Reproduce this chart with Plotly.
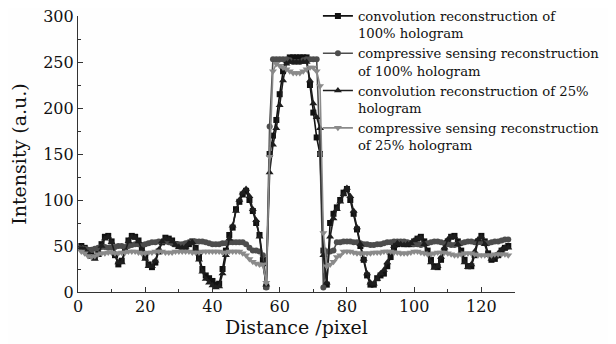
import plotly.graph_objects as go

x = list(range(1, 129))

conv100 = [50, 48, 44, 40, 38, 42, 52, 60, 61, 55,
           40, 30, 34, 46, 56, 61, 60, 56, 48, 38,
           30, 27, 32, 44, 54, 59, 58, 56, 52, 50,
           49, 48, 52, 55, 48, 38, 25, 18, 15, 12,
           8, 9, 25, 45, 62, 70, 90, 98, 106, 110,
           100, 88, 75, 62, 35, 6, 150, 170, 187, 215,
           240, 252, 255, 255, 255, 255, 255, 255, 225, 195,
           168, 150, 45, 8, 75, 85, 92, 100, 108, 112,
           100, 85, 68, 50, 35, 18, 8, 8, 15, 18,
           20, 28, 38, 48, 52, 53, 52, 52, 52, 55,
           58, 60, 55, 45, 35, 28, 27, 35, 45, 55,
           60, 61, 55, 45, 35, 28, 28, 40, 55, 61,
           55, 42, 35, 36, 40, 45, 48, 50]

cs100 = [48, 47, 46, 46, 47, 48, 49, 49, 48, 48,
         49, 50, 50, 49, 50, 51, 52, 52, 51, 52,
         53, 54, 54, 55, 55, 55, 54, 53, 52, 52,
         52, 53, 54, 54, 55, 55, 55, 54, 53, 52,
         52, 52, 53, 53, 54, 54, 54, 54, 54, 52,
         48, 45, 45, 44, 40, 5, 180, 253, 253, 253,
         253, 253, 252, 250, 250, 250, 252, 253, 253, 253,
         253, 150, 5, 44, 44, 45, 54, 54, 55, 55,
         55, 54, 54, 53, 52, 52, 51, 51, 52, 52,
         53, 54, 54, 55, 55, 55, 55, 54, 53, 52,
         52, 51, 52, 53, 54, 55, 55, 54, 53, 52,
         51, 51, 52, 53, 54, 55, 55, 54, 54, 54,
         53, 53, 54, 55, 55, 56, 57, 57]

conv25 = [48, 46, 42, 38, 36, 40, 50, 58, 60, 54,
          42, 32, 32, 44, 55, 60, 59, 55, 46, 36,
          28, 28, 34, 46, 55, 58, 57, 55, 51, 49,
          48, 49, 53, 54, 46, 35, 22, 14, 10, 7,
          5, 6, 20, 40, 58, 72, 88, 100, 108, 112,
          104, 90, 78, 60, 30, 8, 130, 160, 178, 203,
          230, 248, 250, 250, 250, 250, 250, 250, 230, 205,
          190, 178, 40, 10, 60, 80, 90, 98, 106, 113,
          104, 88, 70, 52, 36, 20, 10, 9, 14, 20,
          24, 32, 42, 50, 53, 52, 51, 52, 53, 56,
          58, 59, 52, 42, 32, 26, 28, 38, 48, 57,
          60, 60, 52, 42, 32, 27, 30, 44, 57, 60,
          52, 40, 36, 38, 42, 46, 48, 48]

cs25 = [44, 42, 39, 38, 39, 41, 42, 42, 43, 43,
        42, 42, 43, 43, 44, 44, 44, 43, 42, 42,
        43, 43, 44, 44, 44, 43, 43, 43, 44, 44,
        44, 44, 44, 43, 43, 43, 44, 44, 44, 44,
        44, 44, 43, 43, 44, 44, 44, 44, 42, 40,
        36, 33, 31, 30, 30, 10, 147, 240, 248, 246,
        244, 242, 240, 238, 238, 238, 240, 242, 244, 244,
        240, 224, 64, 28, 30, 33, 38, 40, 44, 44,
        44, 43, 42, 42, 42, 42, 42, 43, 43, 43,
        44, 44, 44, 43, 43, 42, 42, 42, 43, 44,
        44, 43, 42, 41, 41, 42, 43, 43, 43, 42,
        41, 40, 40, 41, 42, 42, 42, 41, 40, 40,
        40, 40, 40, 41, 41, 41, 41, 40]

names = ["convolution reconstruction of<br>100% hologram",
         "compressive sensing reconstruction<br>of 100% hologram",
         "convolution reconstruction of 25%<br>hologram",
         "compressive sensing reconstruction<br>of 25% hologram"]

series = [conv100, cs100, conv25, cs25]
colors = ["#111111", "#4d4d4d", "#1e1e1e", "#8a8a8a"]
symbols = ["square", "circle", "triangle-up", "triangle-down"]
msizes = [6, 6, 7, 7]

fig = go.Figure()
for s, n, c, sym, ms in zip(series, names, colors, symbols, msizes):
    fig.add_trace(go.Scatter(
        x=x, y=s, name=n, mode="lines+markers",
        line=dict(color=c, width=1.6),
        marker=dict(symbol=sym, size=ms, color=c, line=dict(width=0)),
    ))

font_family = "DejaVu Serif"
fig.update_layout(
    width=608, height=336,
    margin=dict(l=70, r=101, t=8, b=52, autoexpand=False),
    paper_bgcolor="#fefefe", plot_bgcolor="#fefefe",
    font=dict(family=font_family, size=16, color="#111111"),
    showlegend=True,
    legend=dict(x=0.549, y=1.055, xanchor="left", yanchor="top",
                bgcolor="rgba(0,0,0,0)", font=dict(family=font_family, size=13.2, color="#111111"),
                valign="top", tracegroupgap=0, itemwidth=30),
    xaxis=dict(range=[0, 130], dtick=20, tick0=0, showgrid=False, zeroline=False,
               showline=True, linecolor="#333333", linewidth=1.2, automargin=False,
               ticks="inside", ticklen=5, tickcolor="#333333", ticklabeloverflow="allow",
               minor=dict(dtick=10, ticks="inside", ticklen=3, tickcolor="#333333"),
               title=dict(text="Distance /pixel", standoff=0),
               tickfont=dict(size=16)),
    yaxis=dict(range=[0, 300], dtick=50, tick0=0, showgrid=False, zeroline=False,
               showline=True, linecolor="#333333", linewidth=1.2, automargin=False,
               ticks="inside", ticklen=5, tickcolor="#333333", ticklabeloverflow="allow",
               minor=dict(dtick=25, ticks="inside", ticklen=3, tickcolor="#333333"),
               title=dict(text="Intensity (a.u.)", standoff=12),
               tickfont=dict(size=16)),
)

fig.write_html("out.html")
